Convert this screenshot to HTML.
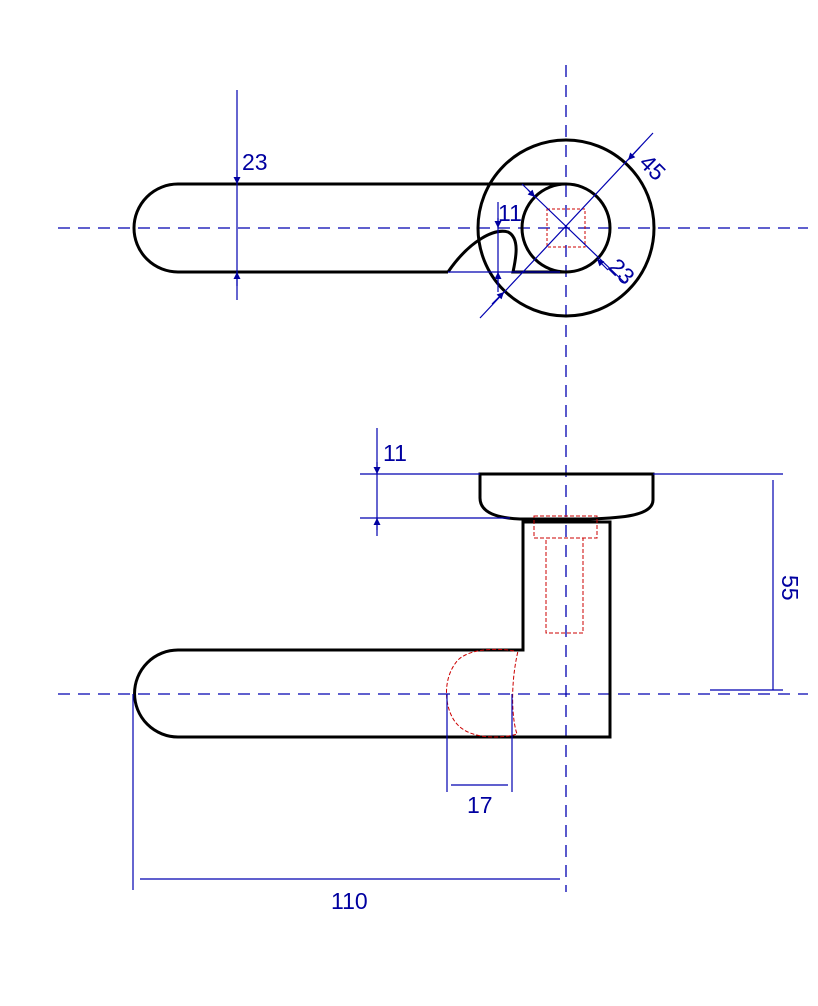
<!DOCTYPE html>
<html><head><meta charset="utf-8"><style>html,body{margin:0;padding:0;background:#fff}svg{display:block}</style></head>
<body>
<svg width="818" height="1006" viewBox="0 0 818 1006" xmlns="http://www.w3.org/2000/svg" font-family="Liberation Sans, sans-serif">
<defs>
<marker id="a" viewBox="0 0 10 10" refX="10" refY="5" markerWidth="9" markerHeight="7" orient="auto-start-reverse" markerUnits="userSpaceOnUse"><path d="M0,0L10,5L0,10z" fill="#0000a0"/></marker>
</defs>
<!-- center lines -->
<g stroke="#0000b0" stroke-width="1.3" stroke-dasharray="12,8" fill="none">
<line x1="58" y1="228" x2="808" y2="228"/>
<line x1="566" y1="65" x2="566" y2="892"/>
<line x1="58" y1="694" x2="808" y2="694"/>
</g>
<!-- top view -->
<g stroke="#000" stroke-width="3" fill="none">
<circle cx="566" cy="228" r="88"/>
<circle cx="566" cy="228" r="44"/>
<path d="M566,184 H178 A44,44 0 0 0 178,272 H448"/>
<path d="M448,272 C470,240 495,228 508,232 C520,238 516,258 513,272 H566"/>
</g>
<rect x="547" y="209" width="38" height="38" fill="none" stroke="#c00" stroke-width="1" stroke-dasharray="3,2"/>
<g stroke="#0000b0" stroke-width="1.2" fill="none">
<line x1="237" y1="90" x2="237" y2="300"/>
<line x1="237" y1="170" x2="237" y2="184" marker-end="url(#a)"/>
<line x1="237" y1="286" x2="237" y2="272" marker-end="url(#a)"/>
<line x1="498" y1="202" x2="498" y2="292"/>
<line x1="498" y1="218" x2="498" y2="228" marker-end="url(#a)"/>
<line x1="498" y1="284" x2="498" y2="272" marker-end="url(#a)"/>
<line x1="448" y1="272" x2="560" y2="272"/>
<line x1="480" y1="318" x2="653" y2="133"/>
<line x1="640" y1="147" x2="628" y2="160" marker-end="url(#a)"/>
<line x1="492" y1="304" x2="504" y2="292" marker-end="url(#a)"/>
<line x1="522" y1="184" x2="625" y2="283"/>
<line x1="528" y1="190" x2="535" y2="197" marker-end="url(#a)"/>
<line x1="608" y1="270" x2="597" y2="259" marker-end="url(#a)"/>
</g>
<g fill="#0000a0" font-size="23">
<text x="242" y="170">23</text>
<text x="498" y="221">11</text>
<text x="0" y="0" transform="translate(638,164) rotate(45)">45</text>
<text x="0" y="0" transform="translate(607,268) rotate(45)">23</text>
</g>
<!-- bottom view -->
<g stroke="#000" stroke-width="3" fill="none">
<path d="M480,474 H653 V500 C653,516 620,518 590,519 H520 C495,518 480,512 480,498 Z"/>
<path d="M523,522 H610 V737 H178 A43,43 0 0 1 178,650 H523 Z"/>
</g>
<g stroke="#c00" stroke-width="1" stroke-dasharray="4,2" fill="none">
<rect x="534" y="516" width="63" height="22"/>
<rect x="546" y="538" width="37" height="95"/>
<path d="M514,651 C500,648 470,648 458,660 C440,680 445,715 460,727 C475,740 505,738 517,734 C512,720 510,685 518,651"/>
</g>
<g stroke="#0000b0" stroke-width="1.2" fill="none">
<line x1="377" y1="428" x2="377" y2="536"/>
<line x1="377" y1="462" x2="377" y2="474" marker-end="url(#a)"/>
<line x1="377" y1="530" x2="377" y2="518" marker-end="url(#a)"/>
<line x1="360" y1="474" x2="480" y2="474"/>
<line x1="360" y1="518" x2="510" y2="518"/>
<line x1="653" y1="474" x2="783" y2="474"/>
<line x1="710" y1="690" x2="783" y2="690"/>
<line x1="773" y1="480" x2="773" y2="690"/>
<line x1="447" y1="694" x2="447" y2="792"/>
<line x1="512" y1="694" x2="512" y2="792"/>
<line x1="451" y1="785" x2="508" y2="785"/>
<line x1="133" y1="694" x2="133" y2="890"/>
<line x1="140" y1="879" x2="560" y2="879"/>
</g>
<g fill="#0000a0" font-size="23">
<text x="383" y="461">11</text>
<text x="0" y="0" transform="translate(782,575) rotate(90)">55</text>
<text x="467" y="813">17</text>
<text x="331" y="909">110</text>
</g>
</svg>
</body></html>
